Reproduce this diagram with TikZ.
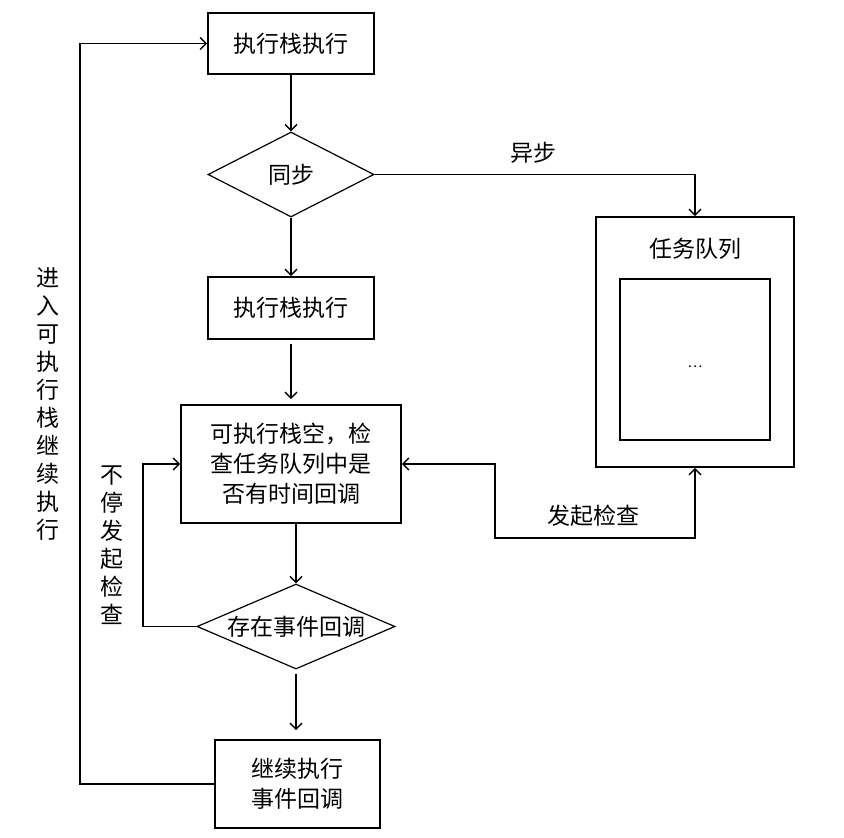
\documentclass[tikz,border=0pt]{standalone}
\usepackage{fontspec}
\setmainfont{Noto Sans CJK SC}
\usetikzlibrary{shapes.geometric,arrows.meta}
\begin{document}
\begin{tikzpicture}[x=1pt,y=-1pt,
  every node/.style={font=\fontsize{23}{30}\selectfont},
  box/.style={draw,line width=1.6pt,rectangle,inner sep=0pt,align=center},
  dia/.style={draw,line width=1.2pt,diamond,inner sep=0pt,align=center},
  conn/.style={line width=1.5pt,-{Straight Barb[length=6pt,width=12pt,line width=1.4pt]}},
  conn2/.style={line width=1.5pt,{Straight Barb[length=6pt,width=12pt,line width=1.4pt]}-{Straight Barb[length=6pt,width=12pt,line width=1.4pt]}},
  lbl/.style={inner sep=0pt,align=center},
  vlbl/.style={inner sep=0pt,align=center,font=\fontsize{23}{28}\selectfont}]
\useasboundingbox (0,0) rectangle (844,838);
\fill[white] (0,0) rectangle (844,838);
\node[box,minimum width=166pt,minimum height=61pt] (b1) at (291,43.5) {执行栈执行};
\node[dia,minimum width=166pt,minimum height=85pt] (d1) at (291,174.5) {};
\node[lbl] (d1t) at (d1.center) {同步};
\node[box,minimum width=166pt,minimum height=62pt] (b2) at (291,308) {执行栈执行};
\node[box,minimum width=220pt,minimum height=118pt] (b3) at (291,464) {可执行栈空，检\\查任务队列中是\\否有时间回调};
\node[dia,minimum width=198pt,minimum height=85pt] (d2) at (296,626.5) {};
\node[lbl] (d2t) at (d2.center) {存在事件回调};
\node[box,minimum width=165pt,minimum height=88pt] (b4) at (297.5,784) {继续执行\\事件回调};
\node[box,minimum width=198pt,minimum height=250pt] (q) at (695,342) {};
\node[lbl] (qt) at (695,249) {任务队列};
\node[box,minimum width=150pt,minimum height=161pt] (qi) at (695,359.5) {};
\node[lbl,font=\fontsize{14}{16}\selectfont] (dots) at (695,367) {…};
\coordinate (L) at (80,0);
\coordinate (L2) at (143,0);
\coordinate (C) at (495,538);
\draw[conn] (b1.south) -- (d1.north);
\draw[conn] (d1.south) -- (b2.north);
\draw[conn,shorten <=4pt,shorten >=5pt] (b2.south) -- (b2.south |- b3.north);
\draw[conn] (d2.north |- b3.south) -- (d2.north);
\draw[conn,shorten <=4pt,shorten >=9pt] (d2.south) -- (d2.south |- b4.north);
\draw[conn] (b4.west) -- (b4.west -| L) |- (b1.west);
\draw[conn] (d2.west) -- (d2.west -| L2) |- (b3.west);
\draw[conn] (d1.east) -| (q.north);
\draw[conn2] (b3.east) -| (C) -| (q.south);
\node[lbl] (async) at (533,153) {异步};
\node[lbl] (check) at (593,516) {发起检查};
\node[vlbl] (v1) at (48,404) {进\\入\\可\\执\\行\\栈\\继\\续\\执\\行};
\node[vlbl] (v2) at (112,545) {不\\停\\发\\起\\检\\查};
\end{tikzpicture}
\end{document}
